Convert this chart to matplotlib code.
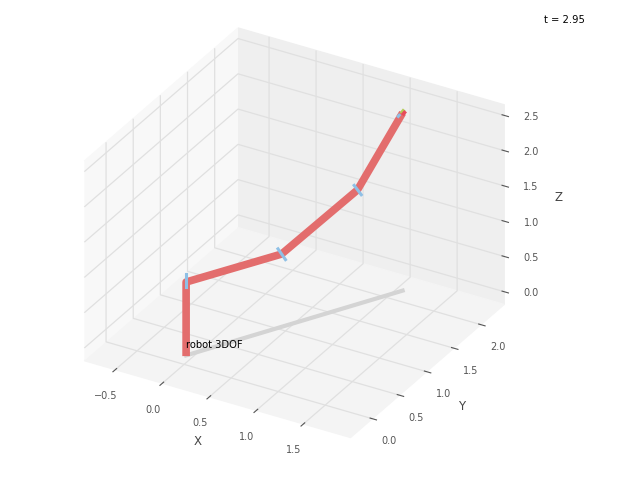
import numpy as np
import matplotlib
matplotlib.use("Agg")
import matplotlib.pyplot as plt

plt.rcParams['font.size'] = 8.5

link_x = [0.05, 0.05, 0.547, 0.942, 1.18]
link_y = [-0.05, -0.05, 0.847, 1.56, 1.98]
link_z = [-0.01, 1.04, 1.03, 1.615, 2.52]
shadow_x = [0.05, 1.18]
shadow_y = [-0.05, 1.98]
shadow_z = [0.0, 0.0]
# short local-axis marks at the joints: (x0, x1), (y0, y1), (z0, z1)
blue_x = [(0.05, 0.05), (0.49, 0.61), (0.89, 1.0), (1.145, 1.155)]
blue_y = [(-0.05, -0.05), (0.88, 0.81), (1.59, 1.53), (1.96, 1.96)]
blue_z = [(0.97, 1.15), (1.06, 1.0), (1.64, 1.59), (2.47, 2.49)]
green_x = [1.17, 1.18]
green_y = [1.99, 1.99]
green_z = [2.52, 2.54]
red_x = [1.195, 1.205]
red_y = [1.97, 1.97]
red_z = [2.52, 2.54]
xticks = [-0.5, 0.0, 0.5, 1.0, 1.5]
yticks = [0.0, 0.5, 1.0, 1.5, 2.0]
zticks = [0.0, 0.5, 1.0, 1.5, 2.0, 2.5]

fig = plt.figure(figsize=(6.4, 4.8), dpi=100)
ax = fig.add_axes([-0.0503, 0.0042, 1.0, 0.995], projection='3d', proj_type='ortho')
ax.view_init(elev=30, azim=-60)
ax.plot(shadow_x, shadow_y, shadow_z, color='#d4d4d4', lw=3)
ax.plot(link_x, link_y, link_z, color='#e36d6d', lw=5.5, solid_capstyle='butt')
for bx, by, bz in zip(blue_x, blue_y, blue_z):
    ax.plot(bx, by, bz, color='#8fc0e6', lw=2.2)
ax.plot(green_x, green_y, green_z, color='#b5cc5a', lw=2.6)
ax.plot(red_x, red_y, red_z, color='#e84a5a', lw=2.6)
ax.set_xlim(-0.83, 2.0)
ax.set_ylim(-0.4, 2.43)
ax.set_zlim(-0.18, 2.65)
ax.set_xticks(xticks)
ax.set_yticks(yticks)
ax.set_zticks(zticks)
ax.set_xlabel('X', color='#444444', labelpad=2)
ax.set_ylabel('Y', color='#444444', labelpad=2)
ax.set_zlabel('Z', color='#444444', labelpad=2)
ax.tick_params(labelsize=7, colors='#555555')
for a, c in zip((ax.xaxis, ax.yaxis, ax.zaxis), ('#f8f8f8', '#efefef', '#f4f4f4')):
    a.set_pane_color(c)
    a.pane.set_edgecolor(c)
    a._axinfo['grid']['color'] = '#e0e0e0'
    a._axinfo['grid']['linewidth'] = 0.9
    a.line.set_color('none')
fig.text(0.85, 0.953, 't = 2.95', fontsize=7.2, color='black')
ax.text(0.05, -0.05, 0.1, 'robot 3DOF', fontsize=7.2, color='black')
fig.savefig('out.png', dpi=100)
